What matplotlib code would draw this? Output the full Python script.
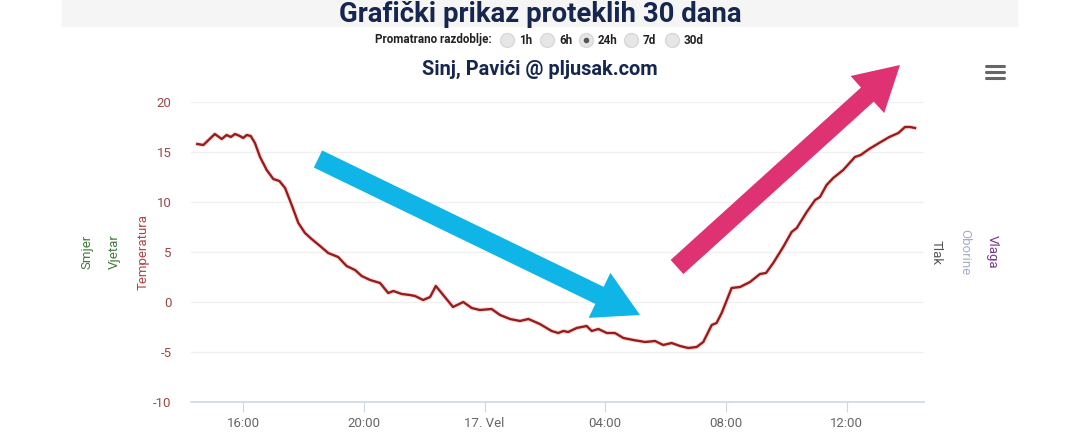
import matplotlib
matplotlib.use("Agg")
import matplotlib.pyplot as plt
from matplotlib.lines import Line2D
from matplotlib.patches import FancyArrow, Rectangle
import numpy as np

# ── Data (hours since 00:00 on the 16th, temperature in °C) ─────────────
hours = [14.47, 14.67, 15.05, 15.28, 15.44, 15.58, 15.72, 15.88, 15.99, 16.11,
         16.24, 16.38, 16.55, 16.77, 16.99, 17.19, 17.38, 17.60, 17.82, 18.04,
         18.26, 18.54, 18.81, 19.14, 19.42, 19.70, 19.92, 20.20, 20.53, 20.80,
         20.97, 21.25, 21.52, 21.69, 21.96, 22.19, 22.38, 22.57, 22.95, 23.29,
         23.57, 23.84, 24.23, 24.51, 24.84, 25.17, 25.45, 25.83, 26.22, 26.44,
         26.61, 26.77, 27.05, 27.38, 27.55, 27.77, 28.05, 28.32, 28.60, 28.93,
         29.32, 29.65, 29.92, 30.20, 30.48, 30.75, 31.03, 31.25, 31.53, 31.69,
         31.86, 32.19, 32.47, 32.80, 33.13, 33.33, 33.57, 33.90, 34.18, 34.35,
         34.68, 34.96, 35.12, 35.34, 35.56, 35.89, 36.28, 36.47, 36.75, 37.08,
         37.42, 37.72, 37.94, 38.11, 38.27]
temperature = [15.8, 15.7, 16.8, 16.3, 16.7, 16.5, 16.8, 16.6, 16.4, 16.7,
               16.6, 15.9, 14.5, 13.2, 12.3, 12.1, 11.4, 9.7, 7.9, 6.9,
               6.3, 5.6, 4.9, 4.5, 3.6, 3.2, 2.6, 2.2, 1.9, 0.9,
               1.1, 0.8, 0.7, 0.6, 0.2, 0.5, 1.6, 0.9, -0.5, 0.0,
               -0.6, -0.8, -0.7, -1.3, -1.7, -1.9, -1.7, -2.2, -2.9, -3.1,
               -2.9, -3.0, -2.6, -2.4, -2.9, -2.7, -3.1, -3.1, -3.6, -3.8,
               -4.0, -3.9, -4.3, -4.1, -4.4, -4.6, -4.5, -4.0, -2.3, -2.1,
               -1.1, 1.4, 1.5, 2.0, 2.8, 2.9, 3.9, 5.5, 7.0, 7.4,
               9.0, 10.2, 10.5, 11.7, 12.4, 13.2, 14.5, 14.7, 15.3, 15.9,
               16.5, 16.9, 17.5, 17.5, 17.4]

x_ticks = [16, 20, 24, 28, 32, 36]
x_labels = ["16:00", "20:00", "17. Vel", "04:00", "08:00", "12:00"]
y_ticks = [-10, -5, 0, 5, 10, 15, 20]
periods = ["1h", "6h", "24h", "7d", "30d"]
selected_period = "24h"

# ── Palette ──────────────────────────────────────────────────────────────
NAVY = "#16264f"
LINE = "#981c1c"
GLOW = "#fbdede"
TICK_RED = "#9a4848"
GRID = "#f0f0f0"
AXIS = "#ccd6eb"
BLUE = "#0fb5e6"
PINK = "#de3272"

W, H = 1080, 437
fig = plt.figure(figsize=(W / 100, H / 100), dpi=100, facecolor="white")


def fx(px):
    return px / W


def fy(py):
    return 1 - py / H


# header band
fig.add_artist(Rectangle((fx(62), fy(27)), fx(1018) - fx(62), fy(0) - fy(27),
                         transform=fig.transFigure, facecolor="#f5f5f5",
                         edgecolor="none", zorder=0))

fig.text(0.5, fy(15), "Grafički prikaz proteklih 30 dana", ha="center",
         va="center", fontsize=19.8, fontweight="bold", color=NAVY,
         family="Roboto")
fig.text(fx(492), fy(40), "Promatrano razdoblje:", ha="right", va="center",
         fontsize=8.4, fontweight="bold", color="#222222", family="Roboto")
circle_x = [507, 547, 586, 631, 672]
for cx, label in zip(circle_x, periods):
    fig.add_artist(Line2D([fx(cx)], [fy(40)], marker="o", markersize=10,
                          markerfacecolor="#e6e6e6", markeredgecolor="#d8d8d8",
                          transform=fig.transFigure))
    if label == selected_period:
        fig.add_artist(Line2D([fx(cx)], [fy(40)], marker="o", markersize=4,
                              markerfacecolor="#555555", markeredgecolor="none",
                              transform=fig.transFigure))
    fig.text(fx(cx + 12), fy(40), label, ha="left", va="center",
             fontsize=8.4, fontweight="bold", color="#222222", family="Roboto")

fig.text(0.5, fy(69), "Sinj, Pavići @ pljusak.com", ha="center", va="center",
         fontsize=14.4, fontweight="bold", color=NAVY, family="Roboto")

# hamburger menu
for yy in (66, 72, 78):
    fig.add_artist(Line2D([fx(986), fx(1004)], [fy(yy), fy(yy)], color="#666666",
                          linewidth=2.2, solid_capstyle="round",
                          transform=fig.transFigure))

# ── Chart ────────────────────────────────────────────────────────────────
ax = fig.add_axes([fx(191), fy(402), fx(924) - fx(191), fy(102) - fy(402)])
ax.plot(hours, temperature, color=GLOW, linewidth=3.2, solid_joinstyle="round",
        zorder=2)
ax.plot(hours, temperature, color=LINE, linewidth=1.7, solid_joinstyle="round",
        zorder=3)
ax.set_xlim(14.26, 38.57)
ax.set_ylim(-10, 20)
ax.set_yticks(y_ticks)
ax.set_yticklabels([str(v) for v in y_ticks])
ax.set_xticks(x_ticks)
ax.set_xticklabels(x_labels)
ax.grid(axis="y", color=GRID, linewidth=1)
ax.set_axisbelow(True)
for side in ("top", "right", "left"):
    ax.spines[side].set_visible(False)
ax.spines["bottom"].set_color(AXIS)
ax.spines["bottom"].set_linewidth(1.2)
ax.tick_params(axis="y", length=0, pad=14, labelcolor=TICK_RED, labelsize=9.5)
ax.tick_params(axis="x", length=7, color=AXIS, pad=4, labelcolor="#666666",
               labelsize=9.5)
for lbl in ax.get_xticklabels() + ax.get_yticklabels():
    lbl.set_family("Roboto")

# axis titles
axis_titles = [
    (87, "Smjer", "#3f7a3a", 90),
    (114, "Vjetar", "#3f7a3a", 90),
    (143, "Temperatura", "#b04545", 90),
    (936, "Tlak", "#555555", 270),
    (965, "Oborine", "#a6aec4", 270),
    (992, "Vlaga", "#7a3592", 270),
]
for px, name, color, rot in axis_titles:
    fig.text(fx(px), fy(252), name, rotation=rot, ha="center", va="center",
             fontsize=9.5, color=color, family="Roboto")

# ── Annotation arrows (pixel positions, drawn in inches) ────────────────
def arrow(x0, y0, x1, y1, color, width, head_w, head_l):
    a = FancyArrow(x0 / 100, (H - y0) / 100, (x1 - x0) / 100, -(y1 - y0) / 100,
                   width=width / 100, head_width=head_w / 100,
                   head_length=head_l / 100, length_includes_head=True,
                   color=color, linewidth=0, transform=fig.dpi_scale_trans,
                   zorder=10)
    fig.add_artist(a)


arrow(318, 159, 640, 315, BLUE, 19, 50, 45)
arrow(677, 267, 900, 65, PINK, 19, 50, 44)

fig.savefig("out.png", dpi=100, facecolor="white")
